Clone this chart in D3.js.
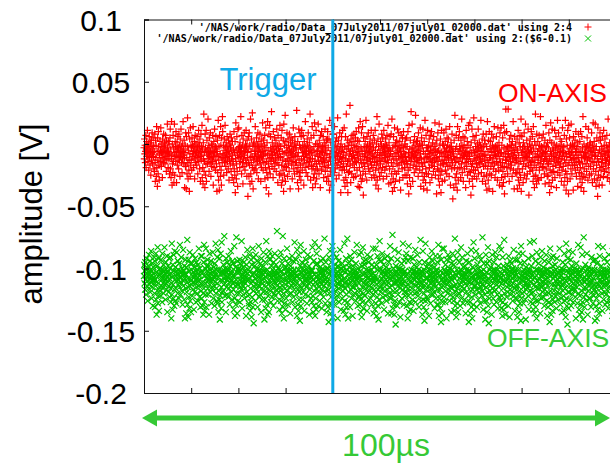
<!DOCTYPE html>
<html><head><meta charset="utf-8">
<script src="https://cdn.jsdelivr.net/npm/d3@7"></script>
<style>html,body{margin:0;padding:0;background:#fff;}svg{display:block;}</style>
</head><body>
<svg id="c" width="610" height="469"></svg>
<script>
// ---- data ----
// ON-AXIS, column 4 (millivolts), sampled uniformly over the 100 us window
const onAxisMilliVolts = [
-3,-12,4,-8,-1,-15,-6,7,-19,-4,2,-10,-7,11,-2,-14,-5,0,-21,-9,
6,-11,-3,-17,1,-6,-25,-8,3,-13,-2,9,-7,-16,-4,5,-10,-1,-20,-6,
-22,8,-15,-30,3,-11,-1,-26,14,-19,-6,-34,5,-13,-24,10,-2,-17,-29,-8,
-9,2,-14,-5,13,-3,-18,-7,0,-11,-27,4,-6,-2,-15,8,-8,-12,1,-4,
-16,-1,7,-10,-5,-22,3,-13,-7,16,-3,-9,-19,-6,2,-12,0,-24,-8,5,
12,-20,-4,-27,-12,18,-9,-33,0,-16,-23,7,-14,-3,-31,-10,16,-25,-7,2,
-2,-14,10,-6,-31,-9,1,-17,-4,6,-11,-3,-20,8,-7,-13,-1,-26,4,-10,
-5,12,-8,-15,-2,-23,0,-12,-6,18,-9,-4,-16,3,-11,-35,-7,-1,-18,9,
-18,-36,6,-11,-24,-2,21,-15,-28,-5,9,-21,-13,-38,4,-8,-26,13,-17,-1,
-13,-3,-21,5,-8,-1,-10,14,-6,-19,-2,-12,2,-28,-5,7,-15,-9,0,-4,
-7,-17,6,-11,-3,-24,1,-8,11,-14,-5,-1,-20,4,-10,-30,-6,8,-13,-2,
-9,15,-27,-4,-19,-32,1,-12,24,-22,-7,-14,-35,8,-3,-25,-16,11,-30,-6,
3,-9,-16,-4,20,-12,-7,-1,-22,5,-10,-3,-15,9,-6,-26,-11,0,-18,-8,
-1,-14,7,-5,-33,-10,2,-19,-7,12,-4,-13,-2,-21,6,-9,-16,-3,-38,-6,
3,-23,-10,19,-29,-13,-2,-37,7,-18,-8,-26,14,-1,-21,-33,5,-11,-15,22,
10,-8,-12,-1,-25,-5,4,-15,-9,15,-3,-11,-18,1,-7,-23,-2,6,-14,-4,
-10,-20,3,-6,-29,0,-13,-8,8,-16,-3,-1,-22,5,-12,-5,-27,2,-9,-17,
-14,-4,-31,10,-20,-7,-25,2,-39,-12,17,-5,-28,-16,6,-22,-9,-34,12,-3,
-4,13,-11,-7,-2,-19,1,-14,-6,22,-10,-3,-24,7,-8,-15,-1,-32,4,-12,
-6,-18,9,-9,-3,-21,-5,0,-13,11,-16,-2,-26,3,-7,-11,-42,-4,6,-15,
-26,9,-17,-1,-32,-11,20,-24,-6,-15,4,-30,-10,25,-19,-2,-36,0,-13,-21,
1,-10,-5,-20,14,-8,-2,-17,-12,5,-23,-6,-1,-14,9,-9,-28,-3,2,-11,
-13,-4,8,-16,-7,-30,0,-10,-19,4,-2,-12,17,-6,-21,-9,3,-15,-5,-1,
7,-28,-8,-19,13,-3,-35,-14,-23,1,-9,18,-27,-5,-16,-40,8,-12,-20,15,
-8,-24,6,-3,-14,-11,26,-6,-18,1,-9,-4,-27,10,-13,-2,-20,-7,5,-16,
-2,-12,-9,3,-22,-5,12,-15,-1,-8,-31,7,-11,-4,-17,0,-25,-6,15,-10,
-11,-2,-24,5,-33,-17,11,-6,-29,-13,-21,3,-38,16,-8,-25,-1,-18,23,-30,
-14,2,-7,-19,-3,9,-12,-26,-5,4,-16,-1,-9,-22,8,-4,-13,-36,-7,1,
5,-11,-6,-17,-2,-28,3,-8,-14,13,-5,-20,-10,0,-24,6,-3,-15,-9,-1,
-4,-15,27,-22,-10,-31,2,-19,-7,-36,12,-13,-26,-1,9,-23,-17,-3,-29,6,
-12,11,-4,-21,-7,-1,-16,7,-10,-33,-3,2,-13,-6,-19,18,-8,-2,-23,-5,
-9,-15,4,-1,-26,-11,9,-6,-18,-3,1,-14,-8,24,-12,-29,-4,5,-17,-7,
-20,14,-12,-35,-5,-18,-27,7,-2,-24,17,-14,-9,-32,0,-21,11,-16,-28,-6,
0,-20,-5,-10,16,-13,-2,-24,3,-8,-16,-1,-35,7,-11,-6,-21,10,-3,-14,
-7,-2,-18,6,-12,-27,-4,1,-15,-9,12,-22,-5,-1,-13,3,-30,-8,-19,4,
10,-26,-3,-17,-30,4,-11,-37,19,-8,-22,-14,1,-33,-5,15,-19,-25,-10,8,
-11,-6,8,-16,-3,-23,14,-9,-1,-20,-13,2,-7,-28,5,-4,-17,-10,21,-2,
-15,3,-8,-25,-5,-12,9,-19,-2,-10,-39,0,-14,6,-6,-21,-3,11,-11,-18,
-16,-7,-29,13,-21,-2,-34,-12,6,-27,-9,24,-18,-4,-31,3,-14,-39,-1,-23,
-4,-13,1,-22,-8,31,-17,-6,-31,4,-1,-10,-24,7,-12,-5,-16,2,-9,-27,
8,-3,-19,-11,-1,-14,5,-26,-7,10,-15,-2,-21,-9,3,-6,-34,-12,13,-4,
2,-19,-35,-8,18,-25,-13,-3,-30,9,-16,-6,-28,14,-10,-22,-41,5,-15,-2,
-10,-18,-5,2,-24,-8,19,-13,-3,-29,6,-11,-1,-16,-7,9,-20,-4,-12,0,
-6,-22,4,-14,-2,-9,11,-17,-27,-5,1,-12,-8,-19,7,-3,-25,-10,3,-15,
-27,11,-5,-21,-33,-11,0,-17,22,-29,-7,-14,4,-36,-2,-20,16,-9,-26,-13,
-5,-16,2,-9,-23,-1,8,-12,-4,-19,5,-7,-28,-2,11,-14,-8,-3,-21,0,
-11,4,-6,-18,-1,-26,7,-9,-13,-3,15,-15,-5,-32,1,-10,-20,-4,6,-8,
-6,-31,8,-15,-24,20,-10,-38,-3,-18,-28,6,-12,-1,-35,13,-22,-8,-30,1,
-2,-13,-24,3,-7,-16,12,-5,-1,-22,-10,9,-17,-4,-29,2,-12,-6,-37,-3,
7,-9,-15,-1,-20,5,-11,-27,-6,10,-3,-14,-8,-19,0,-25,4,-10,-2,-16,
-13,5,-25,-2,-32,-16,10,-21,-7,-40,15,-11,-27,-4,-19,3,-34,-14,26,-9,
-12,-4,16,-8,-30,-3,-17,1,-10,-6,-23,6,-14,-1,-9,23,-20,-5,-11,2,
-18,-7,3,-13,-2,-26,9,-5,-15,-11,0,-21,-4,13,-8,-34,-1,-12,5,-16,
-23,-1,-18,12,-29,-6,-36,-12,2,-26,-15,19,-8,-31,-20,7,-3,-24,-11,-37,
-3,11,-10,-6,-24,-1,-14,4,-19,-8,-31,7,-5,-12,-2,-17,10,-27,-7,-13,
1,-15,-5,-22,6,-9,-2,-18,-12,17,-4,-25,-7,0,-11,-40,3,-14,-6,-20,
9,-14,-28,-5,-21,16,-33,-10,-1,-25,4,-17,-39,-7,11,-22,-13,-30,0,-16,
-8,-1,-16,9,-13,-4,-29,-10,2,-21,-6,12,-15,-3,-24,5,-9,-1,-18,-11,
4,-12,-7,-26,-3,14,-17,-5,-33,-9,1,-13,-2,-20,8,-6,-15,-44,-4,-10,
-8,-35,3,-19,-12,23,-27,-4,-15,-32,7,-24,-2,-11,-37,14,-20,-6,-29,5,
-14,-6,10,-2,-19,-11,-4,-27,3,-8,-16,20,-1,-23,-12,-5,6,-30,-9,-3,
-1,-20,-9,5,-15,-7,-35,-3,11,-12,-18,-6,2,-25,-10,-1,-14,15,-8,-22,
-30,-10,17,-3,-23,-14,-41,1,-18,-7,12,-28,-16,-34,6,-5,-21,21,-12,-26,
-7,3,-13,-21,-2,-9,7,-16,-28,-4,-11,0,-19,-6,12,-24,-3,-15,1,-10,
-16,-5,-1,-12,19,-8,-23,-3,-14,4,-30,-10,-6,8,-18,-2,-26,-9,3,-13,
0,-17,-32,-9,8,-25,-2,-37,-13,18,-20,-6,-29,3,-15,-36,10,-11,-24,-4,
2,-11,-18,-4,-25,8,-7,-15,-1,-38,-12,5,-20,-3,-9,14,-16,-6,-27,-2,
-9,-22,-3,6,-14,-10,-1,-29,-5,13,-17,-8,-21,1,-4,-33,-12,9,-7,-15,
-19,13,-7,-27,-1,-34,-15,5,-22,-10,-31,15,-3,-18,-40,9,-26,-8,-13,28,
-4,-13,10,-19,-6,-2,-24,-11,28,-8,-16,-3,-30,4,-10,-1,-20,-14,7,-5,
-17,-1,-8,-26,2,-12,-5,18,-21,-9,-3,-36,-7,6,-15,-11,0,-23,-4,-13,
-12,-24,4,-36,-5,-20,11,-29,-9,-16,1,-33,-23,7,-2,-27,-14,20,-38,-7,
6,-7,-20,-3,-11,-31,1,-16,-6,9,-25,-2,-12,-9,16,-18,-4,-28,-10,3,
-13,-24,-2,-8,12,-5,-17,-41,-11,0,-7,-22,4,-15,-3,-19,10,-6,-14,-1,
6,-21,-11,-30,14,-4,-26,-17,-35,2,-13,-8,24,-25,-1,-19,-32,8,-10,-28,
-6,2,-15,-11,-29,-4,7,-21,-1,-9,-16,22,-13,-5,-27,-2,-10,5,-18,-8,
-3,-19,8,-14,-7,-1,-24,-12,3,-32,-6,-10,15,-20,-2,-13,-8,-26,1,-16,
-25,-3,-16,9,-31,-12,-39,3,-21,-6,17,-14,-34,-9,1,-23,12,-29,-4,-18,
-10,-5,-22,0,-13,11,-27,-8,-3,-17,6,-11,-35,-1,-15,-7,19,-23,-4,-12,
9,-14,-2,-19,-9,-25,4,-6,-16,-1,-12,-30,2,-21,-5,13,-10,-3,-18,-7,
-2,-33,7,-13,-27,-8,19,-22,-15,-37,4,-10,-24,-1,-30,11,-17,-6,-40,15,
-15,-8,5,-4,-28,-11,-1,-20,16,-7,-13,-24,-3,0,-17,-9,-37,6,-12,-2,
-1,-17,-12,3,-21,-6,10,-15,-26,-4,-9,1,-19,-34,-2,-11,8,-14,-7,-23,
-15,2,-28,-19,10,-6,-35,-11,-24,6,-31,-3,-16,22,-26,-9,-38,0,-20,-12,
-7,-27,-4,-10,14,-16,-2,-22,-8,5,-13,-1,-29,-5,12,-18,-11,-3,-25,0,
-12,1,-18,-6,-3,-24,9,-9,-14,-31,-1,-7,17,-20,-4,-15,2,-28,-10,-5,
16,-9,-22,-34,-2,-17,5,-29,-12,-42,13,-7,-25,-14,3,-33,-5,-19,9,-27,
3,-10,-21,-2,-15,-8,-33,6,-12,-4,-18,-26,11,-6,-1,-22,-9,4,-16,-13,
-8,-20,-1,-13,7,-5,-27,-11,-3,20,-17,-7,-23,-2,-14,1,-30,-9,-6,-19,
-10,-28,1,-16,-38,8,-23,-5,-31,-13,21,-20,-1,-36,-8,4,-26,-15,-32,10
];
// OFF-AXIS, column 6 (millivolts); plotted as $6-0.1
const offAxisMilliVolts = [
-6,3,-12,-2,-17,5,-9,-1,-21,-4,8,-14,-7,0,-26,-10,2,-5,-16,11,
-3,-13,-8,6,-19,-1,-11,14,-6,-24,-2,-15,4,-9,-30,-4,1,-12,-7,9,
-20,6,-31,-9,-14,12,-25,-3,-37,-11,2,-18,17,-28,-6,-22,8,-34,-1,-15,
-18,-5,0,-22,-10,7,-3,-14,-1,-27,12,-8,-16,-6,3,-20,-11,-2,17,-13,
-4,-9,-25,5,-12,-1,-17,-7,10,-35,-3,-11,2,-19,-5,-14,8,-8,-23,0,
9,-16,-27,-4,-40,-12,20,-21,-7,-33,3,-13,-24,11,-2,-30,-17,14,-9,-26,
1,-16,-6,-28,-2,13,-10,-4,-20,6,-13,-1,-9,-24,4,-7,-15,19,-3,-11,
-21,-7,9,-12,-3,-18,0,-29,-5,15,-10,-14,-2,-25,2,-8,-40,-4,7,-16,
-5,-36,1,-19,-11,23,-29,-8,-15,-39,7,-23,-2,-32,13,-14,-26,4,-10,-35,
-9,-1,-13,4,-22,-6,11,-17,-3,-11,-33,1,-7,-19,-5,8,-12,-2,-27,-10,
5,-15,-8,-20,-1,-26,3,-10,-4,16,-14,-6,-23,0,-9,-31,-3,10,-18,-12,
-24,10,-13,-30,-3,-20,-37,5,-16,19,-27,-6,-34,0,-12,-21,16,-31,-8,2,
-2,-11,7,-16,-5,-21,-9,2,-37,-7,12,-13,-1,-19,-4,6,-10,-28,-8,-15,
-17,-3,13,-9,-24,-6,1,-14,-2,-30,4,-11,-7,20,-20,-5,-16,-1,-26,9,
-12,-28,15,-7,-35,-18,-1,-25,8,-41,-10,-22,12,-4,-32,-15,21,-27,-2,-19,
-10,-4,-18,3,-13,-8,26,-2,-22,-12,0,-6,-35,8,-15,-3,-9,-21,5,-1,
-7,-23,-1,10,-16,-5,-11,-29,2,-8,-14,14,-4,-19,-10,-2,-25,6,-12,-6,
4,-17,-33,-11,18,-24,-6,-38,-14,1,-29,-9,25,-20,-3,-36,6,-13,-26,-1,
0,-13,-20,-3,7,-9,-27,-15,4,-1,-17,-6,22,-11,-32,-5,-8,1,-21,-14,
-11,5,-6,-24,-2,-16,9,-12,-3,-38,-7,3,-19,-10,15,-4,-22,-1,-9,-28,
-30,-8,-21,11,-2,-34,-16,-27,7,-12,-39,3,-23,-5,16,-31,-10,-18,-44,9,
-4,-15,2,-8,-26,-13,11,-5,-20,-1,6,-17,-10,-31,0,-7,-14,18,-3,-23,
-14,-6,-1,-21,4,-11,-35,-3,8,-16,-9,-25,1,-12,-5,13,-19,-2,-8,-41,
-3,-25,5,-15,-32,-7,22,-19,-29,-1,-11,-37,10,-22,-13,-4,-35,14,-17,-6,
7,-10,-18,-4,-27,-7,2,-13,-23,10,-1,-16,-6,-30,5,-9,-3,-20,12,-11,
-5,-22,-12,3,-2,-17,-8,30,-14,-26,-4,0,-10,-19,9,-6,-33,-1,-15,-7,
-18,13,-26,-10,-2,-36,4,-23,-14,26,-31,-5,-20,-40,8,-9,-28,0,-16,-33,
-13,1,-24,-9,-3,16,-18,-6,-29,4,-11,-2,-21,-7,8,-15,-4,-36,-10,2,
-1,-20,-7,-14,10,-5,-27,-12,-3,6,-23,-9,-1,-17,21,-8,-31,-4,-13,-6,
7,-21,-12,-38,15,-6,-29,-17,-1,-34,11,-25,-8,-19,-42,2,-14,19,-30,-4,
-16,-3,5,-11,-25,-7,0,-19,-2,14,-13,-34,-6,3,-10,-21,-4,7,-15,-8,
-9,-28,-1,-14,11,-6,-22,-3,-12,2,-37,-8,-17,-5,9,-11,-2,-24,-7,-1,
-27,-2,17,-22,-9,-35,-13,6,-30,-18,-5,21,-38,-11,-24,3,-16,-33,12,-7,
4,-12,-19,-5,-30,-9,17,-15,-2,-8,-26,1,-11,-4,-20,6,-13,-1,-32,-6,
-3,-17,8,-10,-23,-1,-14,-6,24,-19,-9,-28,-2,5,-12,-7,-35,0,-16,-11,
-10,-31,0,-17,-43,9,-20,-4,-28,14,-12,-36,-6,-23,5,-15,-1,-29,18,-39,
-8,-2,-21,12,-13,-5,-29,-10,3,-18,-1,-7,-25,9,-15,-4,-22,-12,-40,2,
-12,6,-16,-7,-27,-1,-11,15,-20,-4,-33,-9,0,-14,-6,-24,4,-10,-2,-18,
1,-14,-34,-8,20,-26,-16,-3,-37,-11,8,-21,-31,-1,-13,24,-27,-9,-40,4,
-5,-19,1,-13,-8,-31,10,-3,-17,-11,7,-24,-6,-1,-15,-38,2,-9,-21,-4,
-15,-7,13,-2,-20,-12,-5,-26,4,-9,-14,19,-3,-18,-8,-30,0,-11,-23,-6,
-22,11,-7,-29,-18,-2,-35,13,-24,-10,-39,2,-15,-27,17,-5,-32,-20,-12,6,
3,-10,-22,-4,-16,7,-28,-1,-13,-6,-34,11,-8,-19,-2,-11,5,-25,-7,-14,
-2,-18,-9,9,-24,-5,-15,-1,-29,3,-12,-7,-21,16,-4,-36,-10,1,-17,-8,
-33,-6,-19,16,-28,-13,3,-38,-9,-23,10,-30,-1,-17,-41,7,-25,-11,22,-15,
-10,-1,-19,6,-14,-4,-28,-8,12,-16,-2,-23,-6,3,-11,-33,-3,-18,8,-12,
-5,-22,-9,1,-26,-13,-2,10,-17,-7,-36,-4,-12,5,-20,-1,-15,-8,18,-24,
-8,-24,8,-36,-4,-21,-14,27,-32,-7,-18,0,-29,-12,-37,15,-3,-26,-10,-45,
2,-12,-6,-18,-3,-30,7,-10,-21,-1,-14,13,-8,-27,-5,0,-16,-39,-2,-11,
-13,-7,4,-24,-9,-1,-17,20,-5,-12,-29,-3,6,-19,-10,-2,-22,9,-15,-6,
12,-19,-30,-5,-13,-40,6,-22,-16,18,-35,-9,-27,-2,-11,-33,9,-20,-6,-28,
-1,-16,-11,-4,-25,8,-8,-34,-2,-13,3,-20,-6,-9,15,-27,-3,-14,-7,1,
-19,-3,11,-12,-6,-22,-1,-15,-31,5,-9,-4,-18,-11,23,-7,-26,-2,-13,-5,
-15,-37,-3,14,-25,-10,-31,-1,-20,-42,5,-14,-26,20,-8,-34,-17,1,-23,-7,
-8,-25,-2,-14,4,-10,-38,-5,-17,9,-1,-12,-28,-6,2,-21,-4,14,-16,-9,
6,-11,-21,-7,-3,-19,-13,1,-32,-5,-15,10,-8,-24,-2,-10,-1,-29,5,-17,
-4,-29,19,-12,-38,-6,-24,10,-17,-32,-2,-21,-43,7,-15,-9,-36,16,-27,-11,
-4,-14,-8,16,-23,-1,-11,-6,-27,3,-18,-3,-9,-40,7,-13,-5,-20,-2,11,
-12,-2,-17,-10,0,-26,8,-15,-4,-21,-7,-35,4,-9,-1,-16,12,-23,-6,-14,
-26,3,-14,-34,-8,24,-19,-30,-5,-13,-39,8,-22,-1,-28,-16,13,-35,-4,-20,
-3,-20,5,-8,-13,-30,-1,-11,17,-6,-24,-15,-2,9,-18,-5,-28,-10,1,-7,
-16,-6,-25,2,-4,-12,-36,-9,6,-19,-1,-14,-27,12,-7,-3,-22,-11,-43,-2,
5,-11,-27,-2,-36,-18,-7,15,-31,-23,-12,-40,1,-17,-6,-29,21,-14,-33,-9,
8,-9,-14,-1,-21,-5,14,-17,-10,-31,-4,3,-12,-7,-25,0,-16,-6,-19,10,
-7,-28,-3,-15,7,-11,-2,-22,-13,-6,25,-18,-9,-33,-1,-14,4,-26,-5,-10,
-21,-41,-6,11,-15,-26,-3,-35,4,-19,-10,17,-30,-8,-44,-13,6,-24,-1,-18,
-14,1,-10,-20,-6,-37,-2,11,-16,-8,-3,-24,-12,5,-29,-4,-18,-1,-9,13,
-2,-17,-7,-27,9,-13,-5,-21,-1,-32,-10,2,-15,-6,-23,18,-11,-3,-26,-8,
-7,15,-32,-12,-22,-4,-38,9,-27,-16,2,-33,-9,23,-20,-2,-29,-11,-37,0,
-11,-4,-23,-9,-15,3,-19,-1,-30,-7,10,-13,-5,-39,-2,-17,6,-10,-21,-3,
4,-13,-1,-18,-8,-26,0,-12,-4,15,-22,-6,-16,-2,-34,7,-9,-14,-1,-24,
-17,-5,-25,-39,7,-14,-30,-1,-21,12,-35,-8,-18,-28,4,-11,-42,18,-6,-24,
-9,-20,-6,12,-3,-15,-28,-10,-1,-19,5,-7,-12,-25,-4,-41,1,-17,-8,-13,
-15,-2,-12,-5,-22,8,-9,-33,-3,-14,-1,21,-18,-7,-27,-11,2,-4,-20,-6,
10,-28,-9,-19,-33,-3,22,-23,-13,-36,-7,-15,6,-31,-1,-26,-40,13,-16,-10,
-1,-10,-26,-4,4,-16,-8,-21,-13,-2,-36,9,-6,-15,-1,-24,-11,14,-3,-19,
-6,-14,1,-23,-11,-5,-30,6,-17,-9,-3,-20,-12,11,-26,-1,-7,-38,-14,-4,
-31,-1,-20,5,-27,-11,-43,-6,16,-18,-29,-3,-37,9,-13,-22,-5,-34,2,-25,
10,-8,-18,-2,-13,-27,-6,3,-22,-10,-1,-15,-32,-5,8,-12,-19,-3,-9,-25,
-12,-4,-20,-7,16,-11,-2,-29,-15,-6,-24,0,-13,-35,-3,-9,5,-18,-1,-22,
-13,-34,12,-8,-16,-26,3,-39,-10,20,-24,-2,-30,-14,-45,8,-19,-7,-32,14,
-3,-19,-9,-1,-25,-14,7,-6,-30,-11,2,-17,-4,-21,13,-8,-27,-12,-2,-16,
-18,0,-13,-6,-23,-3,-40,-10,4,-15,-8,-1,-28,-12,-5,19,-20,-9,-33,-4,
-2,-22,-37,-6,17,-29,-12,-1,-35,-18,11,-27,-8,-41,0,-16,25,-23,-11,-31,
-7,-11,3,-21,-2,-16,-9,-26,12,-5,-13,-37,-1,-18,-7,1,-24,-3,-14,-10,
-2,-24,-6,-12,-31,-4,9,-19,-1,-10,-15,-28,6,-8,-22,-3,-13,-1,-17,-42,
-19,7,-15,-30,-4,-24,-40,4,-13,-33,-7,18,-21,-2,-36,-10,-28,10,-14,-3,
-9,-5,-16,2,-11,-20,-7,-34,-3,17,-14,-1,-25,-9,-4,-19,8,-12,-29,-6,
-14,-21,-1,-8,-27,5,-12,-4,-18,-2,-32,-10,11,-15,-6,-23,0,-11,-3,-26,
-28,-9,1,-25,-12,-38,14,-17,-5,-31,-20,-1,-43,6,-23,-8,-34,15,-15,-26
];
const offAxisOffset = 0.1;               // using 2:($6-0.1)
const timeWindow = [0, 100];             // microseconds
const triggerTime = 40;                  // microseconds
const xTicks = [0,10,20,30,40,50,60,70,80,90,100];
const yTicks = [0.1, 0.05, 0, -0.05, -0.1, -0.15, -0.2];
const yTickLabels = ["0.1","0.05","0","-0.05","-0.1","-0.15","-0.2"];
const legendLabels = [
  "'/NAS/work/radio/Data_07July2011/07july01_02000.dat' using 2:4",
  "'/NAS/work/radio/Data_07July2011/07july01_02000.dat' using 2:($6-0.1)"
];

// ---- layout ----
const svg = d3.select("#c");
const L = 144, R = 616, T = 19.5, B = 393;
const x = d3.scaleLinear().domain(timeWindow).range([L, R]);
const y = d3.scaleLinear().domain([-0.2, 0.1]).range([B, T]);
const RED = "#ff0000", GREEN = "#00c000", BLUE = "#0fa9e6", LGREEN = "#36c936";

const onPts = onAxisMilliVolts.map((v, i, a) => ({t: timeWindow[0] + i * (timeWindow[1]-timeWindow[0])/(a.length-1), v: v/1000}));
const offPts = offAxisMilliVolts.map((v, i, a) => ({t: timeWindow[0] + i * (timeWindow[1]-timeWindow[0])/(a.length-1), v: v/1000 - offAxisOffset}));

// points
svg.append("g").selectAll("path").data(onPts).join("path")
  .attr("transform", d => `translate(${x(d.t)},${y(d.v)})`)
  .attr("d", "M-3.5,0H3.5M0,-3.5V3.5")
  .attr("stroke", RED).attr("stroke-width", 1.2).attr("fill", "none");
svg.append("g").selectAll("path").data(offPts).join("path")
  .attr("transform", d => `translate(${x(d.t)},${y(d.v)})`)
  .attr("d", "M-3,-3L3,3M-3,3L3,-3")
  .attr("stroke", GREEN).attr("stroke-width", 1.2).attr("fill", "none");

// axes (ticks pointing inward)
const gl = svg.append("g").attr("transform", `translate(${L},0)`)
  .call(d3.axisLeft(y).tickValues(yTicks).tickSize(-5).tickFormat((d,i) => yTickLabels[i]));
gl.select(".domain").attr("stroke", "#111");
gl.selectAll(".tick line").attr("stroke", "#111");
gl.selectAll(".tick text").attr("x", 101 - L).attr("dy", "0.35em").attr("text-anchor", "middle")
  .attr("fill", "#000").style("font", "30px 'Liberation Sans', Arial, sans-serif");

const gb = svg.append("g").attr("transform", `translate(0,${B})`)
  .call(d3.axisBottom(x).tickValues(xTicks).tickSize(-5).tickFormat(""));
gb.select(".domain").attr("stroke", "#111");
gb.selectAll(".tick line").attr("stroke", "#111");
const gt = svg.append("g").attr("transform", `translate(0,${T})`)
  .call(d3.axisTop(x).tickValues(xTicks).tickSize(-5).tickFormat(""));
gt.select(".domain").attr("stroke", "#111");
gt.selectAll(".tick line").attr("stroke", "#111");
const gr = svg.append("g").attr("transform", `translate(${R},0)`)
  .call(d3.axisRight(y).tickValues(yTicks).tickSize(-5).tickFormat(""));
gr.select(".domain").attr("stroke", "#111");

// y title
svg.append("text").attr("transform", `translate(42,214) rotate(-90)`)
  .attr("text-anchor", "middle").attr("fill", "#000")
  .style("font", "31px 'Liberation Sans', Arial, sans-serif").text("amplitude [V]");

// legend
const lg = svg.append("g").style("font", "bold 10px 'DejaVu Sans Mono', monospace");
legendLabels.forEach((s, i) => {
  lg.append("text").attr("x", 572).attr("y", 27 + i * 11.5).attr("dy", "0.35em")
    .attr("text-anchor", "end").attr("fill", "#000").text(s);
});
lg.append("path").attr("transform", "translate(588,27)").attr("d", "M-3.5,0H3.5M0,-3.5V3.5")
  .attr("stroke", RED).attr("fill", "none");
lg.append("path").attr("transform", "translate(588,38.5)").attr("d", "M-3,-3L3,3M-3,3L3,-3")
  .attr("stroke", GREEN).attr("fill", "none");

// trigger
svg.append("line").attr("x1", x(triggerTime)).attr("x2", x(triggerTime)).attr("y1", T).attr("y2", B)
  .attr("stroke", BLUE).attr("stroke-width", 3);
svg.append("text").attr("x", 268).attr("y", 90).attr("text-anchor", "middle").attr("fill", BLUE)
  .style("font", "31px 'Liberation Sans', Arial, sans-serif").text("Trigger");

// labels
svg.append("text").attr("x", 498).attr("y", 102).attr("fill", RED)
  .style("font", "26.5px 'Liberation Sans', Arial, sans-serif").text("ON-AXIS");
svg.append("text").attr("x", 487).attr("y", 347).attr("fill", LGREEN)
  .style("font", "26.5px 'Liberation Sans', Arial, sans-serif").text("OFF-AXIS");

// 100 us arrow
const ay = 418, ax0 = 142, ax1 = 610, hl = 15, hw = 8.5;
svg.append("line").attr("x1", ax0 + hl - 2).attr("x2", ax1 - hl + 2).attr("y1", ay).attr("y2", ay)
  .attr("stroke", LGREEN).attr("stroke-width", 5);
svg.append("path").attr("d", `M${ax0},${ay}L${ax0+hl},${ay-hw}L${ax0+hl},${ay+hw}Z`).attr("fill", LGREEN);
svg.append("path").attr("d", `M${ax1},${ay}L${ax1-hl},${ay-hw}L${ax1-hl},${ay+hw}Z`).attr("fill", LGREEN);
svg.append("text").attr("x", 386).attr("y", 456).attr("text-anchor", "middle").attr("fill", LGREEN)
  .style("font", "32px 'Liberation Sans', Arial, sans-serif").text("100\u00b5s");
</script>
</body></html>
